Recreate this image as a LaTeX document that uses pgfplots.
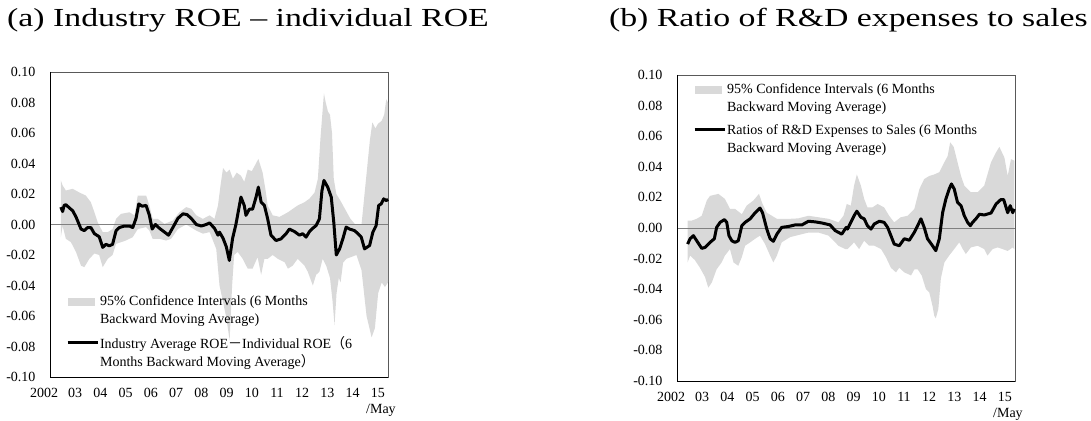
\documentclass[border=0pt]{standalone}
\usepackage{pgfplots}
\pgfplotsset{compat=1.18}
\usepgfplotslibrary{fillbetween}
\usepackage{fontspec}
\setmainfont{Liberation Serif}
\newfontfamily\cjk{Noto Sans CJK JP}
\definecolor{band}{HTML}{D9D9D9}
\definecolor{zero}{HTML}{808080}

\pgfplotsset{
  panel/.style={
    scale only axis, width=338pt,
    xmin=2002, xmax=2015.4, ymin=-0.1, ymax=0.1,
    axis line style={draw=black!65},
    major tick length=0pt,
    xtick={2003,...,2015},
    xticklabels={03,04,05,06,07,08,09,10,11,12,13,14,15},
    extra x ticks={2002}, extra x tick labels={2002},
    extra x tick style={xticklabel style={xshift=-6pt}},
    ytick={-0.1,-0.08,-0.06,-0.04,-0.02,0,0.02,0.04,0.06,0.08,0.1},
    yticklabels={-0.10,-0.08,-0.06,-0.04,-0.02,0.00,0.02,0.04,0.06,0.08,0.10},
    ticklabel style={font=\fontsize{14}{16}\selectfont},
    yticklabel style={xshift=-11pt},
    xticklabel style={yshift=-8pt},
    legend cell align=left,
    legend style={draw=none, fill=none, inner sep=0pt, row sep=9pt,
      font=\fontsize{14}{18}\selectfont,
      nodes={align=left, inner sep=1pt}},
    clip=false,
  },
  bandleg/.style={legend image code/.code={\fill[band] (0pt,5pt) rectangle (27pt,13pt);}},
  lineleg/.style={legend image code/.code={\draw[line width=3pt,black] (0pt,9pt) -- (30pt,9pt);}},
}

\begin{document}
\begin{tikzpicture}
\path (0,0) rectangle (1091pt,420pt);

\node[anchor=west, inner sep=0pt, font=\fontsize{26}{30}\selectfont] at (7pt,400pt) {\scalebox{1.3}[1]{(a) Industry ROE -- individual ROE}};
\node[anchor=east, inner sep=0pt, font=\fontsize{26}{30}\selectfont] at (1088pt,400pt) {\scalebox{1.3}[1]{(b) Ratio of R\&D expenses to sales}};

% (a)
\begin{axis}[panel, height=305pt, at={(50pt,43pt)}, anchor=south west,
  legend style={at={(0.047,0.27)}, anchor=north west}]
\addplot[name path=upA, draw=none, forget plot] table {
2002.43 0.0289
2002.50 0.0256
2002.63 0.0223
2002.90 0.0234
2003.16 0.021
2003.42 0.019
2003.62 0.0146
2003.76 0.008
2003.89 0.0015
2004.09 -0.005
2004.29 -0.005
2004.48 -0.003
2004.62 0.0037
2004.82 0.007
2005.15 0.008
2005.35 0.006
2005.48 0.019
2005.81 0.019
2005.94 0.0125
2006.07 0.0037
2006.27 0.0037
2006.54 0.0004
2006.87 0.0026
2007.13 0.008
2007.40 0.0114
2007.60 0.0103
2007.80 0.006
2008.06 0.0037
2008.33 0.006
2008.52 0.0037
2008.66 0.0125
2008.76 0.0256
2008.86 0.037
2009.00 0.034
2009.12 0.036
2009.25 0.030
2009.40 0.034
2009.57 0.032
2009.70 0.028
2009.84 0.036
2010.00 0.035
2010.10 0.038
2010.26 0.043
2010.43 0.034
2010.55 0.022
2010.63 0.0125
2010.83 0.006
2011.10 0.005
2011.43 0.008
2011.82 0.0125
2012.09 0.0146
2012.29 0.017
2012.49 0.021
2012.62 0.030
2012.72 0.056
2012.86 0.086
2012.93 0.080
2013.02 0.074
2013.10 0.072
2013.18 0.060
2013.25 0.030
2013.35 0.020
2013.50 0.016
2013.70 0.010
2013.90 0.004
2014.10 0.000
2014.35 0.000
2014.50 0.025
2014.68 0.055
2014.78 0.067
2014.90 0.063
2015.00 0.066
2015.15 0.068
2015.25 0.072
2015.33 0.082
2015.40 0.080
};
\addplot[name path=loA, draw=none, forget plot] table {
2002.43 -0.0083
2002.50 -0.001
2002.63 -0.0094
2002.83 -0.0116
2003.03 -0.018
2003.23 -0.027
2003.36 -0.028
2003.56 -0.0225
2003.76 -0.019
2003.95 -0.020
2004.09 -0.028
2004.29 -0.0225
2004.48 -0.020
2004.62 -0.0127
2004.82 -0.0116
2005.01 -0.0105
2005.28 -0.0083
2005.48 -0.003
2005.81 -0.0017
2005.94 -0.004
2006.07 -0.0094
2006.34 -0.0094
2006.60 -0.0105
2006.80 -0.0094
2007.07 -0.003
2007.40 0.000
2007.80 -0.004
2008.06 -0.006
2008.33 -0.005
2008.59 -0.016
2008.72 -0.040
2008.85 -0.050
2009.00 -0.062
2009.12 -0.076
2009.22 -0.040
2009.30 -0.020
2009.44 -0.018
2009.64 -0.0225
2009.84 -0.029
2010.03 -0.029
2010.23 -0.0214
2010.37 -0.033
2010.50 -0.0225
2010.63 -0.0225
2010.83 -0.020
2011.03 -0.0225
2011.30 -0.0247
2011.43 -0.029
2011.62 -0.027
2011.82 -0.0225
2012.09 -0.027
2012.22 -0.031
2012.42 -0.040
2012.55 -0.033
2012.68 -0.031
2012.81 -0.0225
2012.95 -0.027
2013.10 -0.035
2013.20 -0.050
2013.28 -0.066
2013.36 -0.045
2013.45 -0.035
2013.52 -0.038
2013.62 -0.025
2013.75 -0.0225
2014.15 -0.020
2014.35 -0.030
2014.55 -0.060
2014.75 -0.074
2014.88 -0.068
2015.01 -0.045
2015.15 -0.038
2015.28 -0.041
2015.40 -0.038
};
\addplot[fill=band, draw=none, bandleg] fill between[of=upA and loA];
\addlegendentry{95\% Confidence Intervals (6 Months\\Backward Moving Average)}
\addplot[zero, line width=0.8pt, forget plot] coordinates {(2002,0) (2015.4,0)};
\addplot[black, line width=3pt, line join=round, lineleg] table {
2002.43 0.0114
2002.50 0.0085
2002.56 0.0125
2002.63 0.013
2002.76 0.011
2002.90 0.009
2003.03 0.005
2003.23 -0.003
2003.36 -0.004
2003.49 -0.002
2003.62 -0.002
2003.76 -0.006
2003.95 -0.008
2004.09 -0.015
2004.22 -0.013
2004.35 -0.014
2004.48 -0.013
2004.62 -0.004
2004.75 -0.002
2004.95 -0.001
2005.15 -0.001
2005.28 -0.002
2005.41 0.004
2005.52 0.0135
2005.65 0.012
2005.81 0.0125
2005.94 0.006
2006.05 -0.003
2006.18 0.000
2006.34 -0.0025
2006.54 -0.005
2006.70 -0.007
2006.87 -0.002
2007.07 0.004
2007.27 0.007
2007.43 0.0065
2007.60 0.004
2007.80 0.000
2008.00 -0.001
2008.19 0.000
2008.33 0.001
2008.52 -0.0025
2008.66 -0.007
2008.72 -0.005
2008.86 -0.009
2008.99 -0.0146
2009.11 -0.0236
2009.24 -0.009
2009.37 0.000
2009.57 0.018
2009.70 0.0125
2009.77 0.006
2009.90 0.010
2010.03 0.010
2010.17 0.018
2010.26 0.0245
2010.37 0.0147
2010.50 0.0125
2010.63 0.0037
2010.76 -0.007
2010.96 -0.0105
2011.16 -0.0094
2011.36 -0.006
2011.49 -0.003
2011.69 -0.0046
2011.89 -0.007
2012.02 -0.006
2012.15 -0.0083
2012.29 -0.0046
2012.42 -0.0024
2012.55 -0.0007
2012.68 0.0037
2012.78 0.022
2012.86 0.0289
2013.01 0.0245
2013.15 0.018
2013.25 0.0015
2013.35 -0.020
2013.48 -0.016
2013.61 -0.0094
2013.74 -0.0017
2013.88 -0.003
2014.07 -0.004
2014.21 -0.006
2014.34 -0.0083
2014.47 -0.016
2014.67 -0.0138
2014.80 -0.005
2014.93 -0.0007
2015.03 0.0125
2015.13 0.0135
2015.23 0.0168
2015.33 0.0157
2015.40 0.0165
};
\addlegendentry{Industry Average ROE{\cjk －}Individual ROE{\cjk （}6\\Months Backward Moving Average{\cjk ）}}
\draw[black, line width=0.9pt] (rel axis cs:0,1) -- (rel axis cs:0,0) -- (rel axis cs:1,0);
\node[font=\fontsize{14}{16}\selectfont] at (axis cs:2015.12,-0.1) [yshift=-33pt] {/May};
\end{axis}

% (b)
\begin{axis}[panel, height=306pt, at={(677pt,39pt)}, anchor=south west,
  legend style={at={(0.047,0.975)}, anchor=north west}]
\addplot[name path=upB, draw=none, forget plot] table {
2002.42 0.0048
2002.58 0.0048
2002.78 0.006
2002.98 0.008
2003.18 0.018
2003.31 0.021
2003.64 0.0223
2003.90 0.019
2004.10 0.0125
2004.30 0.0125
2004.57 0.009
2004.76 0.0146
2005.03 0.018
2005.25 0.0223
2005.39 0.0157
2005.56 0.010
2005.76 0.008
2005.96 0.006
2006.15 0.006
2006.48 0.006
2006.81 0.0063
2007.21 0.008
2007.61 0.007
2008.01 0.006
2008.40 0.0037
2008.60 0.008
2008.73 0.0157
2008.89 0.0146
2009.02 0.0277
2009.13 0.035
2009.29 0.0277
2009.42 0.019
2009.55 0.0135
2009.75 0.0135
2009.95 0.0157
2010.21 0.0135
2010.41 0.008
2010.61 0.0037
2010.87 0.007
2011.14 0.008
2011.41 0.0125
2011.61 0.0255
2011.80 0.032
2012.00 0.034
2012.20 0.035
2012.40 0.0365
2012.60 0.043
2012.73 0.047
2012.83 0.056
2012.97 0.053
2013.12 0.043
2013.26 0.034
2013.39 0.0277
2013.65 0.0234
2013.92 0.0234
2014.18 0.0277
2014.45 0.043
2014.65 0.0495
2014.78 0.053
2014.98 0.046
2015.11 0.034
2015.24 0.045
2015.37 0.044
};
\addplot[name path=loB, draw=none, forget plot] table {
2002.42 -0.0225
2002.52 -0.018
2002.71 -0.021
2002.91 -0.026
2003.11 -0.032
2003.24 -0.039
2003.38 -0.0356
2003.57 -0.027
2003.77 -0.0225
2003.90 -0.018
2004.10 -0.0138
2004.24 -0.0225
2004.43 -0.0247
2004.57 -0.019
2004.70 -0.0116
2004.90 -0.0094
2005.10 -0.007
2005.29 -0.005
2005.49 -0.0105
2005.69 -0.018
2005.82 -0.0225
2005.96 -0.018
2006.15 -0.0094
2006.48 -0.006
2006.81 -0.0046
2007.21 -0.003
2007.61 -0.003
2008.01 -0.005
2008.40 -0.0116
2008.67 -0.0138
2008.76 -0.0138
2008.89 -0.0116
2009.02 -0.0094
2009.22 -0.0138
2009.42 -0.0083
2009.62 -0.0116
2009.82 -0.0116
2010.09 -0.0138
2010.28 -0.019
2010.48 -0.026
2010.68 -0.029
2010.81 -0.026
2011.01 -0.029
2011.28 -0.031
2011.41 -0.027
2011.54 -0.027
2011.70 -0.031
2011.87 -0.040
2012.00 -0.042
2012.13 -0.051
2012.20 -0.0574
2012.26 -0.059
2012.36 -0.053
2012.46 -0.033
2012.60 -0.0225
2012.79 -0.018
2012.99 -0.0138
2013.19 -0.0094
2013.33 -0.0138
2013.45 -0.017
2013.65 -0.0127
2013.92 -0.0116
2014.18 -0.0138
2014.31 -0.018
2014.51 -0.0138
2014.71 -0.0127
2014.91 -0.0138
2015.11 -0.015
2015.31 -0.0127
2015.37 -0.0138
};
\addplot[fill=band, draw=none, bandleg] fill between[of=upB and loB];
\addlegendentry{95\% Confidence Intervals (6 Months\\Backward Moving Average)}
\addplot[zero, line width=0.8pt, forget plot] coordinates {(2002,0) (2015.4,0)};
\addplot[black, line width=3pt, line join=round, lineleg] table {
2002.42 -0.0105
2002.52 -0.007
2002.65 -0.005
2002.78 -0.0083
2002.98 -0.0133
2003.11 -0.0127
2003.31 -0.0094
2003.48 -0.007
2003.57 0.0004
2003.71 0.0037
2003.88 0.0055
2003.97 0.0037
2004.06 -0.005
2004.17 -0.0083
2004.30 -0.0094
2004.43 -0.0083
2004.57 0.0015
2004.70 0.0037
2004.90 0.006
2005.10 0.010
2005.29 0.013
2005.39 0.010
2005.56 -0.0007
2005.69 -0.007
2005.82 -0.0087
2005.96 -0.004
2006.15 0.0004
2006.42 0.001
2006.68 0.002
2006.95 0.002
2007.21 0.0044
2007.48 0.004
2007.74 0.0033
2008.07 0.002
2008.27 -0.0017
2008.53 -0.004
2008.71 0.0004
2008.76 -0.0007
2008.89 0.0037
2009.02 0.008
2009.13 0.011
2009.29 0.007
2009.42 0.006
2009.55 0.0015
2009.69 -0.0007
2009.82 0.0026
2010.02 0.0044
2010.21 0.0037
2010.35 0.0004
2010.48 -0.005
2010.61 -0.0105
2010.81 -0.0116
2011.01 -0.007
2011.21 -0.008
2011.41 -0.0028
2011.54 0.0015
2011.67 0.006
2011.80 0.0004
2011.93 -0.007
2012.13 -0.0116
2012.26 -0.0148
2012.40 -0.007
2012.53 0.010
2012.66 0.019
2012.79 0.0255
2012.88 0.0288
2012.99 0.0255
2013.12 0.0168
2013.26 0.0146
2013.39 0.008
2013.52 0.0037
2013.63 0.0015
2013.72 0.0037
2013.85 0.006
2013.99 0.009
2014.18 0.0085
2014.45 0.0098
2014.65 0.0157
2014.84 0.0186
2014.95 0.0186
2015.11 0.010
2015.21 0.0146
2015.31 0.010
2015.37 0.0125
};
\addlegendentry{Ratios of R\&D Expenses to Sales (6 Months\\Backward Moving Average)}
\draw[black, line width=0.9pt] (rel axis cs:0,1) -- (rel axis cs:0,0) -- (rel axis cs:1,0);
\node[font=\fontsize{14}{16}\selectfont] at (axis cs:2015.12,-0.1) [yshift=-33pt] {/May};
\end{axis}
\pgfresetboundingbox
\useasboundingbox (0,0) rectangle (1091pt,420pt);
\end{tikzpicture}
\end{document}
